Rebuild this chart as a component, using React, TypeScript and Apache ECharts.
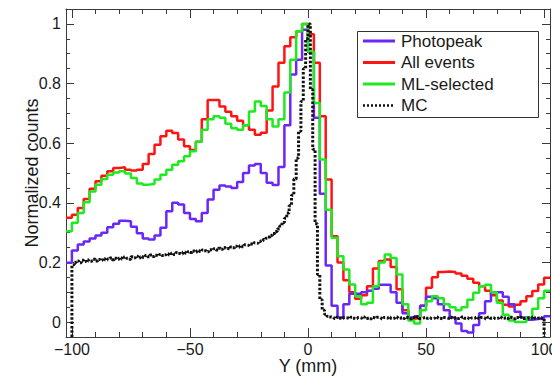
import React, { useEffect, useRef } from 'react';
import * as echarts from 'echarts';

// Histogram binning: 82 bins of 2.5 mm from -102.5 mm
const HIST_START = -102.5;
const BIN_WIDTH = 2.5;
// MC histogram: 1 mm bins from -100 mm
const MC_START = -100;
const MC_BIN = 1;

const X_MIN = -102.5;
const X_MAX = 102.5;
const Y_MIN = -0.05;
const Y_MAX = 1.05;

const seriesNames = ['Photopeak', 'All events', 'ML-selected', 'MC'];
const seriesColors = ['#6b27f5', '#ff1414', '#1fea1f', '#111111'];

const photopeak = [
  0.199, 0.24, 0.26, 0.27, 0.28, 0.29, 0.3, 0.318, 0.33, 0.34,
  0.338, 0.32, 0.298, 0.28, 0.277, 0.29, 0.316, 0.372, 0.4, 0.394,
  0.366, 0.346, 0.338, 0.366, 0.411, 0.444, 0.458, 0.455, 0.45, 0.47,
  0.5, 0.525, 0.53, 0.5, 0.467, 0.46, 0.52, 0.66, 0.83, 0.88,
  0.98, 0.905, 0.685, 0.43, 0.19, 0.055, 0.015, 0.06, 0.095, 0.095,
  0.1, 0.105, 0.112, 0.125, 0.125, 0.1, 0.065, 0.03, 0.015, 0.02,
  0.055, 0.085, 0.08, 0.06, 0.04, 0.015, -0.005, -0.03, -0.035, -0.01,
  0.03, 0.07, 0.1, 0.1, 0.085, 0.06, 0.035, 0.015, 0.008, 0.01,
  0.012, 0.02,
];

const allEvents = [
  0.35, 0.36, 0.383, 0.413, 0.447, 0.472, 0.491, 0.506, 0.517, 0.519,
  0.511, 0.508, 0.511, 0.53, 0.564, 0.595, 0.623, 0.642, 0.634, 0.612,
  0.59, 0.577, 0.605, 0.68, 0.745, 0.745, 0.723, 0.705, 0.69, 0.675,
  0.66, 0.645, 0.628, 0.635, 0.71, 0.79, 0.87, 0.925, 0.955, 0.975,
  1.0, 0.965, 0.87, 0.69, 0.478, 0.288, 0.2, 0.14, 0.1, 0.078,
  0.09, 0.12, 0.18, 0.205, 0.21, 0.185, 0.11, 0.04, 0.008, 0.012,
  0.055, 0.115, 0.15, 0.168, 0.17, 0.168, 0.163, 0.155, 0.145, 0.132,
  0.12, 0.105, 0.09, 0.072, 0.058, 0.052, 0.058, 0.07, 0.087, 0.104,
  0.126, 0.149,
];

const mlSelected = [
  0.305, 0.333, 0.366, 0.402, 0.438, 0.461, 0.48, 0.494, 0.502, 0.506,
  0.498, 0.483, 0.465, 0.461, 0.463, 0.478, 0.494, 0.511, 0.528, 0.539,
  0.556, 0.573, 0.605, 0.645, 0.68, 0.69, 0.685, 0.665, 0.65, 0.645,
  0.66, 0.706, 0.74, 0.725, 0.68, 0.656, 0.68, 0.77, 0.88, 0.975,
  1.0, 0.907, 0.735, 0.545, 0.377, 0.283, 0.221, 0.176, 0.126, 0.087,
  0.06, 0.065, 0.12, 0.2, 0.227, 0.215, 0.16, 0.06, 0.005, -0.005,
  0.04, 0.07, 0.087, 0.08, 0.06, 0.05, 0.04, 0.05, 0.075, 0.098,
  0.12, 0.125, 0.1, 0.065, 0.025, 0.005, 0.0, 0.0, 0.015, 0.045,
  0.08, 0.105,
];

const mc = [
  0.192, 0.201, 0.205, 0.199, 0.207, 0.203, 0.209, 0.204, 0.206, 0.211,
  0.205, 0.21, 0.207, 0.213, 0.208, 0.212, 0.215, 0.209, 0.214, 0.211,
  0.216, 0.212, 0.218, 0.214, 0.211, 0.219, 0.216, 0.221, 0.215, 0.22,
  0.217, 0.223, 0.219, 0.225, 0.22, 0.224, 0.222, 0.227, 0.223, 0.226,
  0.229, 0.225, 0.231, 0.227, 0.233, 0.23, 0.228, 0.235, 0.231, 0.236,
  0.233, 0.238, 0.235, 0.24, 0.237, 0.242, 0.239, 0.236, 0.243, 0.241,
  0.246, 0.242, 0.248, 0.244, 0.25, 0.247, 0.245, 0.252, 0.249, 0.254,
  0.251, 0.256, 0.253, 0.259, 0.257, 0.262, 0.26, 0.266, 0.264, 0.27,
  0.273, 0.277, 0.281, 0.285, 0.291, 0.297, 0.304, 0.312, 0.322, 0.334,
  0.348, 0.366, 0.39, 0.425, 0.48, 0.55, 0.64, 0.74, 0.85, 0.95,
  1.0, 0.78, 0.58, 0.33, 0.16, 0.075, 0.04, 0.026, 0.02, 0.017,
  0.015, 0.012, 0.016, 0.013, 0.011, 0.015, 0.014, 0.012, 0.016, 0.013,
  0.012, 0.015, 0.013, 0.017, 0.012, 0.014, 0.011, 0.015, 0.013, 0.016,
  0.014, 0.011, 0.015, 0.013, 0.016, 0.012, 0.014, 0.017, 0.013, 0.015,
  0.012, 0.016, 0.014, 0.011, 0.015, 0.013, 0.017, 0.012, 0.014, 0.016,
  0.013, 0.015, 0.012, 0.014, 0.017, 0.013, 0.011, 0.015, 0.014, 0.012,
  0.016, 0.013, 0.015, 0.012, 0.014, 0.017, 0.013, 0.015, 0.011, 0.014,
  0.013, 0.016, 0.012, 0.015, 0.014, 0.011, 0.016, 0.013, 0.015, 0.012,
  0.014, 0.017, 0.013, 0.015, 0.012, 0.016, 0.014, 0.011, 0.015, 0.013,
  0.016, 0.012, 0.014, 0.015, 0.013, 0.017, 0.012, 0.014, 0.016, 0.013,
];

const FONT = '"Liberation Sans", Arial, Helvetica, sans-serif';
const TEXT_COLOR = '#1a1a1a';
const FRAME_COLOR = '#3a3a3a';

function histPoints(values: number[], start: number, width: number): number[][] {
  const pts = values.map((v, i) => [start + i * width, v]);
  pts.push([start + values.length * width, values[values.length - 1]]);
  return pts;
}

// MC outline closes down to the frame bottom at both ends of its range
function mcPoints(): number[][] {
  const end = MC_START + mc.length * MC_BIN;
  return [
    [MC_START, Y_MIN],
    ...histPoints(mc, MC_START, MC_BIN),
    [end, Y_MIN],
  ];
}

const minus = (v: number) => String(v).replace('-', '\u2212');

function frameAxis(position: string, isX: boolean, showLabels: boolean) {
  return {
    type: 'value',
    position,
    min: isX ? X_MIN : Y_MIN,
    max: isX ? X_MAX : Y_MAX,
    splitNumber: isX ? 4 : 5,
    axisLine: { show: true, onZero: false, lineStyle: { color: FRAME_COLOR, width: 1 } },
    axisTick: { show: true, inside: true, length: isX ? 9 : 8, lineStyle: { color: FRAME_COLOR, width: 1 } },
    minorTick: { show: true, splitNumber: isX ? 5 : 4, length: isX ? 5 : 4, lineStyle: { color: FRAME_COLOR, width: 1 } },
    splitLine: { show: false },
    axisLabel: {
      show: showLabels,
      showMinLabel: false,
      showMaxLabel: false,
      fontFamily: FONT,
      fontSize: 16,
      lineHeight: 16,
      color: TEXT_COLOR,
      margin: isX ? 4 : 5,
      formatter: isX ? minus : (v: number) => String(v),
    },
  };
}

export default function App() {
  const ref = useRef<HTMLDivElement>(null);

  useEffect(() => {
    document.body.style.margin = '0';
    if (!ref.current) return;
    const chart = echarts.init(ref.current, undefined, { renderer: 'svg' });

    const histSeries = [
      { name: seriesNames[1], data: histPoints(allEvents, HIST_START, BIN_WIDTH), color: seriesColors[1], dash: 'solid', width: 2.5 },
      { name: seriesNames[0], data: histPoints(photopeak, HIST_START, BIN_WIDTH), color: seriesColors[0], dash: 'solid', width: 2.5 },
      { name: seriesNames[2], data: histPoints(mlSelected, HIST_START, BIN_WIDTH), color: seriesColors[2], dash: 'solid', width: 2.5 },
      { name: seriesNames[3], data: mcPoints(), color: seriesColors[3], dash: [2.5, 1.8], width: 3 },
    ];

    const legendRowGap = 21.5;
    const legendChildren: any[] = [
      {
        type: 'rect',
        shape: { x: 0.5, y: 0.5, width: 181, height: 86 },
        style: { fill: '#ffffff', stroke: '#333333', lineWidth: 1 },
      },
    ];
    seriesNames.forEach((name, i) => {
      const y = 10 + i * legendRowGap;
      legendChildren.push({
        type: 'line',
        shape: { x1: 6, y1: y, x2: 38, y2: y },
        style: {
          stroke: seriesColors[i],
          lineWidth: i === 3 ? 2.5 : 3,
          lineDash: i === 3 ? [2, 2] : null,
        },
      });
      legendChildren.push({
        type: 'text',
        x: 44,
        y,
        style: {
          text: name,
          fontFamily: FONT,
          fontSize: 17,
          fill: TEXT_COLOR,
          verticalAlign: 'middle',
          align: 'left',
        },
      });
    });

    chart.setOption({
      animation: false,
      backgroundColor: '#ffffff',
      grid: { left: 66, right: 2, top: 9, bottom: 41, containLabel: false, outerBoundsMode: 'none' },
      xAxis: [
        {
          ...frameAxis('bottom', true, true),
          name: 'Y (mm)',
          nameLocation: 'middle',
          nameGap: 20,
          nameMoveOverlap: false,
          nameTextStyle: { fontFamily: FONT, fontSize: 18, lineHeight: 18, color: TEXT_COLOR },
        },
        frameAxis('top', true, false),
      ],
      yAxis: [
        {
          ...frameAxis('left', false, true),
          name: 'Normalized counts',
          nameLocation: 'middle',
          nameRotate: 90,
          nameGap: 25,
          nameMoveOverlap: false,
          nameTextStyle: { fontFamily: FONT, fontSize: 18, color: TEXT_COLOR },
        },
        frameAxis('right', false, false),
      ],
      series: histSeries.map((s) => ({
        type: 'line',
        name: s.name,
        xAxisIndex: 0,
        yAxisIndex: 0,
        step: 'end',
        symbol: 'none',
        showSymbol: false,
        clip: true,
        data: s.data,
        lineStyle: { color: s.color, width: s.width, type: s.dash },
        itemStyle: { color: s.color },
      })),
      graphic: [
        {
          type: 'group',
          x: 357,
          y: 31,
          z: 100,
          children: legendChildren,
        },
      ],
    });

    return () => chart.dispose();
  }, []);

  return <div ref={ref} style={{ width: 552, height: 378 }} />;
}
